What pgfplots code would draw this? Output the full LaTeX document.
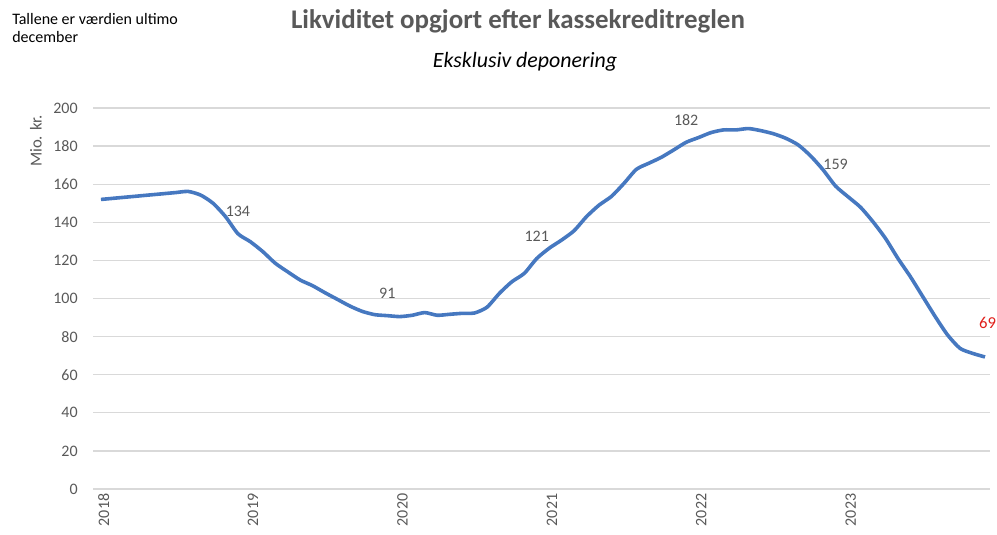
\documentclass[border=0pt]{standalone}
\usepackage{pgfplots}
\pgfplotsset{compat=1.18}
\usepackage{fontspec}
\setmainfont{Carlito}
\definecolor{txt}{HTML}{595959}
\definecolor{gridc}{HTML}{D9D9D9}
\definecolor{linec}{RGB}{70,120,192}
\definecolor{redc}{HTML}{E0201B}

\pgfplotstableread{
x y
0 152
1 152.6
2 153.2
3 153.8
4 154.4
5 155.0
6 155.6
7 156.2
8 154.3
9 150
10 143
11 134
12 129.8
13 124.6
14 118.5
15 114
16 109.7
17 106.7
18 103
19 99.5
20 96
21 93.2
22 91.5
23 91
24 90.5
25 91.2
26 92.6
27 91.2
28 91.7
29 92.2
30 92.4
31 95.4
32 102.7
33 108.8
34 113.2
35 121
36 126.4
37 130.7
38 135.6
39 143
40 149
41 153.6
42 160.4
43 167.8
44 171
45 174.1
46 178
47 182
48 184.5
49 187.1
50 188.5
51 188.5
52 189.2
53 188.1
54 186.5
55 184.1
56 180.6
57 174.8
58 167.5
59 159
60 153.4
61 147.9
62 140.3
63 131.6
64 121.1
65 111.5
66 101
67 90.5
68 80.8
69 73.8
70 71.2
71 69.3
}\liqdata

\pgfplotstableread{
x y l
11 134 134
23 91 91
35 121 121
47 182 182
59 159 159
}\labdata

\begin{document}
\begin{tikzpicture}
\useasboundingbox (0,0) rectangle (747.75pt,401.25pt);
\begin{axis}[
  at={(69.75pt,34.5pt)}, anchor=south west,
  scale only axis, width=672.75pt, height=285.75pt,
  xmin=-0.64, xmax=71.4, ymin=0, ymax=200,
  axis line style={draw=none},
  ytick={0,20,...,200},
  xtick={0,12,24,36,48,60},
  xticklabels={2018,2019,2020,2021,2022,2023},
  x tick label style={rotate=90, anchor=east, yshift=-2pt, font=\fontsize{12}{14}\selectfont, text=txt},
  y tick label style={xshift=-8pt, font=\fontsize{12}{14}\selectfont, text=txt},
  /pgf/number format/assume math mode=true,
  major tick length=0pt,
  ymajorgrids, grid style={gridc, line width=1pt},
  clip=false,
]
\addplot[linec, line width=2.7pt, mark=none, line join=round, smooth, tension=0.4] table[x=x, y=y] {\liqdata};
\addplot[draw=none, mark=none, nodes near coords, point meta=explicit symbolic,
  every node near coord/.append style={font=\fontsize{12}{14}\selectfont, text=txt, anchor=south, yshift=9pt}]
  table[x=x, y=y, meta=l] {\labdata};
\addplot[draw=none, mark=none, nodes near coords, point meta=explicit symbolic,
  every node near coord/.append style={font=\fontsize{12.5}{14}\selectfont, text=redc, anchor=south, yshift=18pt, xshift=2pt}]
  coordinates {(71,69.3) [69]};
\end{axis}
\node[anchor=base west, font=\fontsize{12}{13}\selectfont, inner sep=0pt] at (9pt,382.5pt) {Tallene er værdien ultimo};
\node[anchor=base west, font=\fontsize{12}{13}\selectfont, inner sep=0pt] at (9pt,369pt) {december};
\node[anchor=base, font=\bfseries\fontsize{20.2}{24}\selectfont, text=txt, inner sep=0pt] at (388.5pt,379.5pt) {Likviditet opgjort efter kassekreditreglen};
\node[anchor=base, font=\itshape\fontsize{16.4}{18}\selectfont, inner sep=0pt] at (393.75pt,350.25pt) {Eksklusiv deponering};
\node[rotate=90, font=\fontsize{12.5}{14}\selectfont, text=txt, inner sep=0pt] at (27pt,295.5pt) {Mio. kr.};
\end{tikzpicture}
\end{document}
